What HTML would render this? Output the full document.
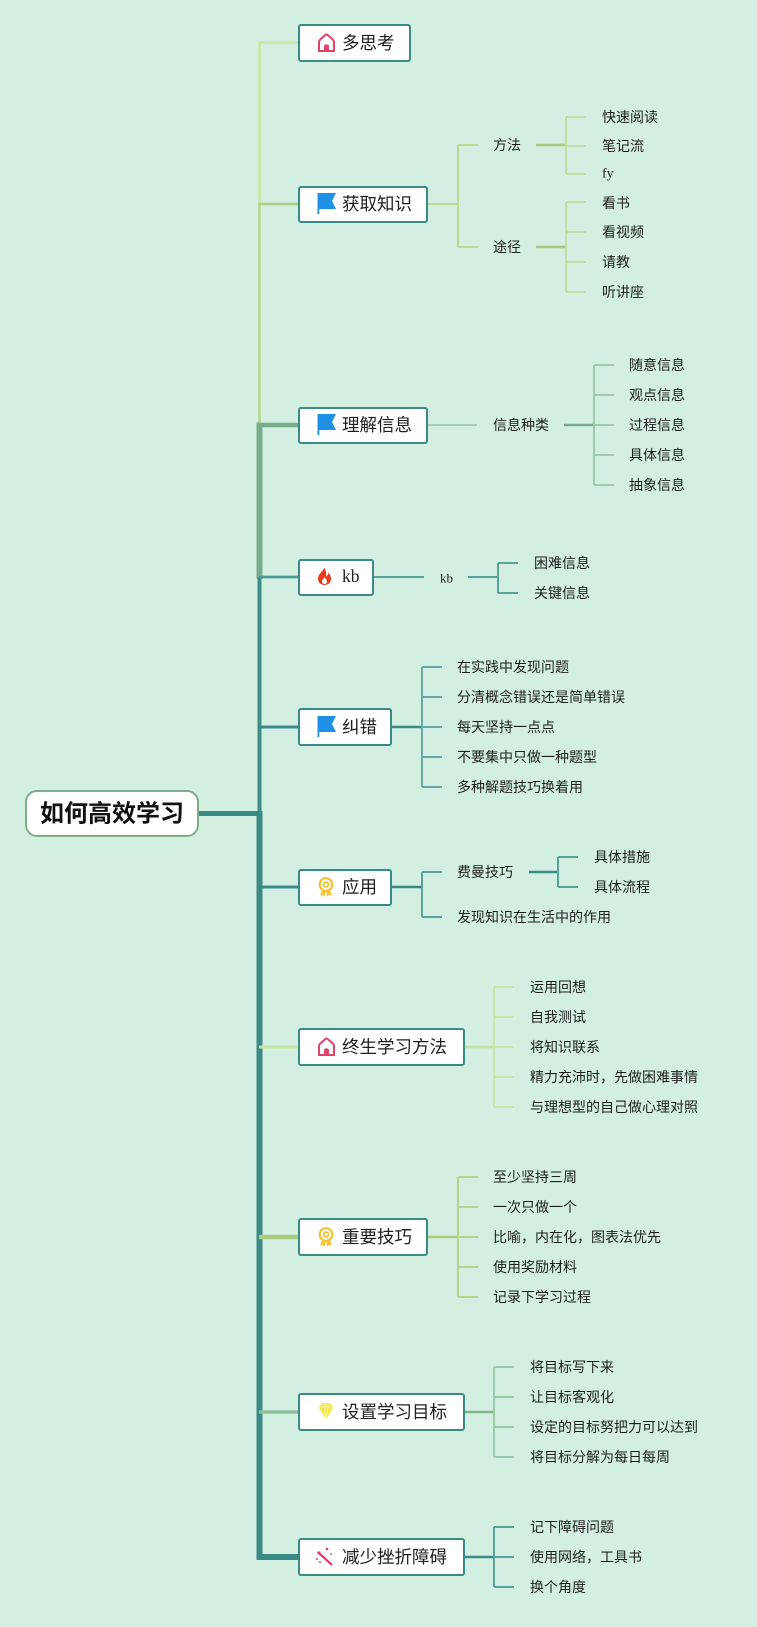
<!DOCTYPE html>
<html><head><meta charset="utf-8">
<style>
html,body{margin:0;padding:0;background:#d3efe1;}
svg{display:block;}
text{font-family:"Liberation Sans","Noto Sans CJK SC",sans-serif;fill:#1e1e1e;dominant-baseline:central;}
.m{font-size:17.5px;}
.l{font-size:14px;}
.s{font-family:"Liberation Serif",serif;}
</style></head><body>
<svg width="757" height="1627" viewBox="0 0 757 1627" xmlns="http://www.w3.org/2000/svg">
<rect width="757" height="1627" fill="#d3efe1"/>

<!-- trunk -->
<g fill="none" stroke-linecap="butt">
  <line x1="259.5" y1="41.5" x2="259.5" y2="204" stroke="#c8e6a2" stroke-width="2.6"/>
  <line x1="259.5" y1="204" x2="259.5" y2="426" stroke="#b4d88e" stroke-width="2.6"/>
  <line x1="259.5" y1="422.5" x2="259.5" y2="579" stroke="#7aab8a" stroke-width="6"/>
  <line x1="259.5" y1="577" x2="259.5" y2="814" stroke="#3e8d88" stroke-width="4"/>
  <line x1="259.5" y1="811" x2="259.5" y2="1560" stroke="#3a8a86" stroke-width="6"/>
  <line x1="199" y1="813.5" x2="262" y2="813.5" stroke="#3a8a86" stroke-width="5"/>
  <!-- branch horizontals -->
  <line x1="258.2" y1="42.5" x2="298" y2="42.5" stroke="#c8e6a2" stroke-width="2.6"/>
  <line x1="258.2" y1="204" x2="298" y2="204" stroke="#a9cf85" stroke-width="2.6"/>
  <line x1="256.5" y1="425" x2="298" y2="425" stroke="#7aab8a" stroke-width="4.5"/>
  <line x1="259" y1="577" x2="298" y2="577" stroke="#4a9a95" stroke-width="2.8"/>
  <line x1="259" y1="727" x2="298" y2="727" stroke="#3a8a86" stroke-width="3"/>
  <line x1="259" y1="887" x2="298" y2="887" stroke="#3a8a86" stroke-width="3"/>
  <line x1="259" y1="1047" x2="298" y2="1047" stroke="#c7e5a5" stroke-width="3"/>
  <line x1="259" y1="1237" x2="298" y2="1237" stroke="#a8cd80" stroke-width="4.5"/>
  <line x1="259" y1="1412" x2="298" y2="1412" stroke="#8fc09c" stroke-width="3.5"/>
  <line x1="256.5" y1="1557" x2="298" y2="1557" stroke="#3a8a86" stroke-width="6"/>
</g>

<!-- sub connectors -->
<g fill="none" stroke-width="2">
  <g stroke="#b9dc95">
    <path d="M428 204 H458 M458 145 V247 M458 145 H478 M458 247 H478"/>
  </g>
  <path d="M536 145 H566 M536 247 H566" stroke="#a3ca80" stroke-width="2.6"/>
  <g stroke="#c2e0a3">
    <path d="M566 117 V174 M566 117 H586 M566 146 H586 M566 174 H586"/>
    <path d="M566 202 V292 M566 202 H586 M566 232 H586 M566 262 H586 M566 292 H586"/>
  </g>
  <path d="M428 425 H477" stroke="#a6cfb3"/>
  <path d="M564 425 H594" stroke="#7aab8a" stroke-width="2.5"/>
  <path d="M594 365 V485 M594 365 H614 M594 395 H614 M594 425 H614 M594 455 H614 M594 485 H614" stroke="#9fcaae"/>
  <path d="M374 577 H424 M468 577 H498 M498 563 V593 M498 563 H518 M498 593 H518" stroke="#5aa39d"/>
  <path d="M392 727 H422" stroke="#3a8a86" stroke-width="2.5"/>
  <path d="M422 667 V787 M422 667 H442 M422 697 H442 M422 727 H442 M422 757 H442 M422 787 H442" stroke="#6aa9a5"/>
  <path d="M392 887 H422" stroke="#3a8a86" stroke-width="2.5"/>
  <path d="M422 872 V917 M422 872 H442 M422 917 H442" stroke="#5aa39d"/>
  <path d="M529 872 H558" stroke="#3a8a86" stroke-width="2.5"/>
  <path d="M558 857 V887 M558 857 H578 M558 887 H578" stroke="#5aa39d"/>
  <path d="M465 1047 H494" stroke="#c2e2a0" stroke-width="2.5"/>
  <path d="M494 987 V1107 M494 987 H514 M494 1017 H514 M494 1047 H514 M494 1077 H514 M494 1107 H514" stroke="#c9e6aa"/>
  <path d="M428 1237 H458" stroke="#a8cd80" stroke-width="2.6"/>
  <path d="M458 1177 V1297 M458 1177 H478 M458 1207 H478 M458 1237 H478 M458 1267 H478 M458 1297 H478" stroke="#b3d68e"/>
  <path d="M465 1412 H494" stroke="#80b590" stroke-width="2.5"/>
  <path d="M494 1367 V1457 M494 1367 H514 M494 1397 H514 M494 1427 H514 M494 1457 H514" stroke="#9cc9a8"/>
  <path d="M465 1557 H494" stroke="#3a8a86" stroke-width="2.5"/>
  <path d="M494 1527 V1587 M494 1527 H514 M494 1557 H514 M494 1587 H514" stroke="#5aa39d"/>
</g>

<!-- root -->
<rect x="26" y="791" width="172" height="45" rx="11" fill="#fff" stroke="#7daf8c" stroke-width="2"/>
<text x="112" y="814" text-anchor="middle" style="font-size:24px;font-weight:bold;fill:#111;">如何高效学习</text>

<!-- main boxes -->
<g fill="#fff" stroke="#3a8a86" stroke-width="2">
  <rect x="299" y="25" width="111" height="36" rx="2"/>
  <rect x="299" y="187" width="128" height="35" rx="2"/>
  <rect x="299" y="408" width="128" height="35" rx="2"/>
  <rect x="299" y="560" width="74" height="35" rx="2"/>
  <rect x="299" y="709" width="92" height="36" rx="2"/>
  <rect x="299" y="870" width="92" height="35" rx="2"/>
  <rect x="299" y="1029" width="165" height="36" rx="2"/>
  <rect x="299" y="1219" width="128" height="36" rx="2"/>
  <rect x="299" y="1394" width="165" height="36" rx="2"/>
  <rect x="299" y="1539" width="165" height="36" rx="2"/>
</g>

<!-- icons -->
<defs>
  <g id="house">
    <path d="M-7.5 8 V-1 Q-7.5 -2.5 -6 -3.8 L-1.2 -8 Q0 -9 1.2 -8 L6 -3.8 Q7.5 -2.5 7.5 -1 V8 Z" fill="#fff" stroke="#e0446b" stroke-width="2"/>
    <path d="M-2.5 8 V2.5 Q0 0 2.5 2.5 V8 Z" fill="#e0446b"/>
  </g>
  <g id="flag">
    <rect x="-9" y="-10" width="1.8" height="21" fill="#1e90e6"/>
    <path d="M-9 -10 H9.5 L5.5 -2 L9.5 6 H-9 Z" fill="#1e90e6"/>
  </g>
  <g id="medal">
    <circle cx="0" cy="-2.5" r="6.3" fill="none" stroke="#f5c234" stroke-width="2.2"/>
    <circle cx="0" cy="-2.5" r="2.4" fill="none" stroke="#f5c234" stroke-width="1.8"/>
    <path d="M-4 3 L-6 9 L-3 7.5 L-1.5 10 L0 4 Z M4 3 L6 9 L3 7.5 L1.5 10 L0 4 Z" fill="#f5c234"/>
  </g>
</defs>
<use href="#house" x="326.5" y="43"/>
<use href="#house" x="326.5" y="1047"/>
<use href="#flag" x="326.5" y="203"/>
<use href="#flag" x="326.5" y="424"/>
<use href="#flag" x="326.5" y="726"/>
<use href="#medal" x="326" y="887"/>
<use href="#medal" x="326" y="1237"/>
<path d="M324.5 568 C322 572 318 574 318 579 C318 582.5 321 585 324.5 585 C328 585 331 582.5 331 579 C331 576 329.5 574 328.5 572.5 C328 575 327 576 326 576.5 C326.5 573 325.8 570 324.5 568 Z M324.5 584 C323 584 322 583 322 581.5 C322 579.5 324 578.5 324.5 577 C325 578.5 327 579.5 327 581.5 C327 583 326 584 324.5 584 Z" fill="#f03a1e" fill-rule="evenodd"/>
<g transform="translate(326,1411)">
  <path d="M-7.5 -4 L-4 -8 H4 L7.5 -4 L0 8.5 Z" fill="#f2e64a"/>
  <path d="M-7.5 -4 H7.5 M-4 -8 L-2 -4 L0 8.5 L2 -4 L4 -8 M0 -8 L-2 -4 M0 -8 L2 -4" stroke="#fff7a8" stroke-width="0.8" fill="none"/>
</g>
<g transform="translate(326,1557)">
  <line x1="-6" y1="-3" x2="6" y2="8" stroke="#e8336a" stroke-width="2.2"/>
  <circle cx="-7" cy="-4" r="1.6" fill="#e8336a"/>
  <circle cx="1" cy="-8" r="1.3" fill="#e8336a"/>
  <circle cx="-6" cy="5" r="1.3" fill="#f27aa0"/>
  <circle cx="5" cy="-3" r="1.1" fill="#f27aa0"/>
  <circle cx="-9" cy="2" r="1" fill="#e8336a"/>
</g>

<!-- main texts -->
<text class="m" x="342" y="43">多思考</text>
<text class="m" x="342" y="204">获取知识</text>
<text class="m" x="342" y="425">理解信息</text>
<text class="m s" x="342" y="576">kb</text>
<text class="m" x="342" y="727">纠错</text>
<text class="m" x="342" y="887">应用</text>
<text class="m" x="342" y="1047">终生学习方法</text>
<text class="m" x="342" y="1237">重要技巧</text>
<text class="m" x="342" y="1412">设置学习目标</text>
<text class="m" x="342" y="1557">减少挫折障碍</text>

<!-- sub texts -->
<g class="l">
<text class="l" x="493" y="145">方法</text>
<text class="l" x="493" y="247">途径</text>
<text class="l" x="602" y="117">快速阅读</text>
<text class="l" x="602" y="146">笔记流</text>
<text class="l s" x="602" y="174">fy</text>
<text class="l" x="602" y="203">看书</text>
<text class="l" x="602" y="232">看视频</text>
<text class="l" x="602" y="262">请教</text>
<text class="l" x="602" y="292">听讲座</text>

<text class="l" x="493" y="425">信息种类</text>
<text class="l" x="629" y="365">随意信息</text>
<text class="l" x="629" y="395">观点信息</text>
<text class="l" x="629" y="425">过程信息</text>
<text class="l" x="629" y="455">具体信息</text>
<text class="l" x="629" y="485">抽象信息</text>

<text class="s" x="440" y="578" style="font-size:13px">kb</text>
<text class="l" x="534" y="563">困难信息</text>
<text class="l" x="534" y="593">关键信息</text>

<text class="l" x="457" y="667">在实践中发现问题</text>
<text class="l" x="457" y="697">分清概念错误还是简单错误</text>
<text class="l" x="457" y="727">每天坚持一点点</text>
<text class="l" x="457" y="757">不要集中只做一种题型</text>
<text class="l" x="457" y="787">多种解题技巧换着用</text>

<text class="l" x="457" y="872">费曼技巧</text>
<text class="l" x="457" y="917">发现知识在生活中的作用</text>
<text class="l" x="594" y="857">具体措施</text>
<text class="l" x="594" y="887">具体流程</text>

<text class="l" x="530" y="987">运用回想</text>
<text class="l" x="530" y="1017">自我测试</text>
<text class="l" x="530" y="1047">将知识联系</text>
<text class="l" x="530" y="1077">精力充沛时，先做困难事情</text>
<text class="l" x="530" y="1107">与理想型的自己做心理对照</text>

<text class="l" x="493" y="1177">至少坚持三周</text>
<text class="l" x="493" y="1207">一次只做一个</text>
<text class="l" x="493" y="1237">比喻，内在化，图表法优先</text>
<text class="l" x="493" y="1267">使用奖励材料</text>
<text class="l" x="493" y="1297">记录下学习过程</text>

<text class="l" x="530" y="1367">将目标写下来</text>
<text class="l" x="530" y="1397">让目标客观化</text>
<text class="l" x="530" y="1427">设定的目标努把力可以达到</text>
<text class="l" x="530" y="1457">将目标分解为每日每周</text>

<text class="l" x="530" y="1527">记下障碍问题</text>
<text class="l" x="530" y="1557">使用网络，工具书</text>
<text class="l" x="530" y="1587">换个角度</text>
</g>
</svg>
</body></html>
